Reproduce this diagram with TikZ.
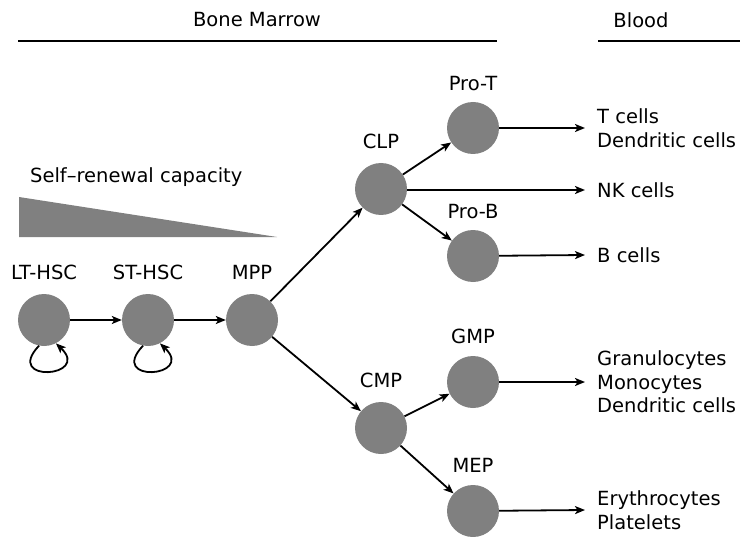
\documentclass[tikz,border=0pt]{standalone}
\usepackage{fontspec}
\setmainfont{DejaVu Sans}
\usetikzlibrary{arrows.meta,positioning}

\begin{document}
\begin{tikzpicture}[x=1pt,y=-1pt,
  cell/.style={circle,fill=cellGray,inner sep=0pt,minimum size=52pt},
  lbl/.style={inner sep=0pt,font=\fontsize{19.5}{23.5}\selectfont},
  fate/.style={lbl,anchor=west,align=left},
  flow/.style={-{Stealth[length=10pt,width=8pt,inset=2.5pt]},line width=1.8pt}]
\definecolor{cellGray}{RGB}{128,128,128}
\useasboundingbox (0,0) rectangle (743,537);
% compartments
\node[lbl] (marrow) at (257,20) {Bone Marrow};
\node[lbl] (blood) at (641,20) {Blood};
\draw[line width=1.8pt] (18,41) -- (497,41);
\draw[line width=1.8pt] (598,41) -- (740,41);
% self-renewal wedge
\node[lbl,anchor=base west] (renew) at (30,183) {Self–renewal capacity};
\fill[cellGray] (19,197) -- (277,237) -- (19,237) -- cycle;
% progenitors
\node[cell] (lt) at (44,320) {};
\node[cell] (st) at (148,320) {};
\node[cell] (mpp) at (252,320) {};
\node[cell] (clp) at (381,189) {};
\node[cell] (cmp) at (381,428) {};
\node[cell] (prot) at (473,128) {};
\node[cell] (prob) at (473,256) {};
\node[cell] (gmp) at (473,382) {};
\node[cell] (mep) at (473,511) {};
\node[lbl,above=14pt of lt] (ltl) {LT-HSC};
\node[lbl,above=14pt of st] (stl) {ST-HSC};
\node[lbl,above=14pt of mpp] (mppl) {MPP};
\node[lbl,above=14pt of clp] (clpl) {CLP};
\node[lbl,above=11pt of prot] (protl) {Pro-T};
\node[lbl,above=11pt of prob] (probl) {Pro-B};
\node[lbl,above=14pt of cmp] (cmpl) {CMP};
\node[lbl,above=12pt of gmp] (gmpl) {GMP};
\node[lbl,above=12pt of mep] (mepl) {MEP};
% mature cells
\node[fate] (tc) at (597,128) {T cells\\Dendritic cells};
\node[fate] (nk) at (597,190) {NK cells};
\node[fate] (bc) at (597,255) {B cells};
\node[fate] (my) at (597,382) {Granulocytes\\Monocytes\\Dendritic cells};
\node[fate] (ery) at (597,510) {Erythrocytes\\Platelets};
\coordinate (tcEnd) at (585,128);
\coordinate (nkEnd) at (585,190);
\coordinate (bcEnd) at (585,255);
\coordinate (myEnd) at (585,382);
\coordinate (eryEnd) at (585,510);
% lineage arrows
\draw[flow] (lt) -- (st);
\draw[flow] (st) -- (mpp);
\draw[flow] (mpp) -- (clp);
\draw[flow] (mpp) -- (cmp);
\draw[flow] (clp) -- (prot);
\draw[flow] (clp) -- (prob);
\draw[flow] (cmp) -- (gmp);
\draw[flow] (cmp) -- (mep);
\draw[flow] (clp.east |- nkEnd) -- (nkEnd);
\draw[flow] (prot) -- (tcEnd);
\draw[flow] (prob) -- (bcEnd);
\draw[flow] (gmp) -- (myEnd);
\draw[flow] (mep) -- (eryEnd);
\foreach \c in {lt,st}
  \draw[flow] (\c.259) .. controls +(-36,38) and +(36,34) .. (\c.297);
\end{tikzpicture}
\end{document}
